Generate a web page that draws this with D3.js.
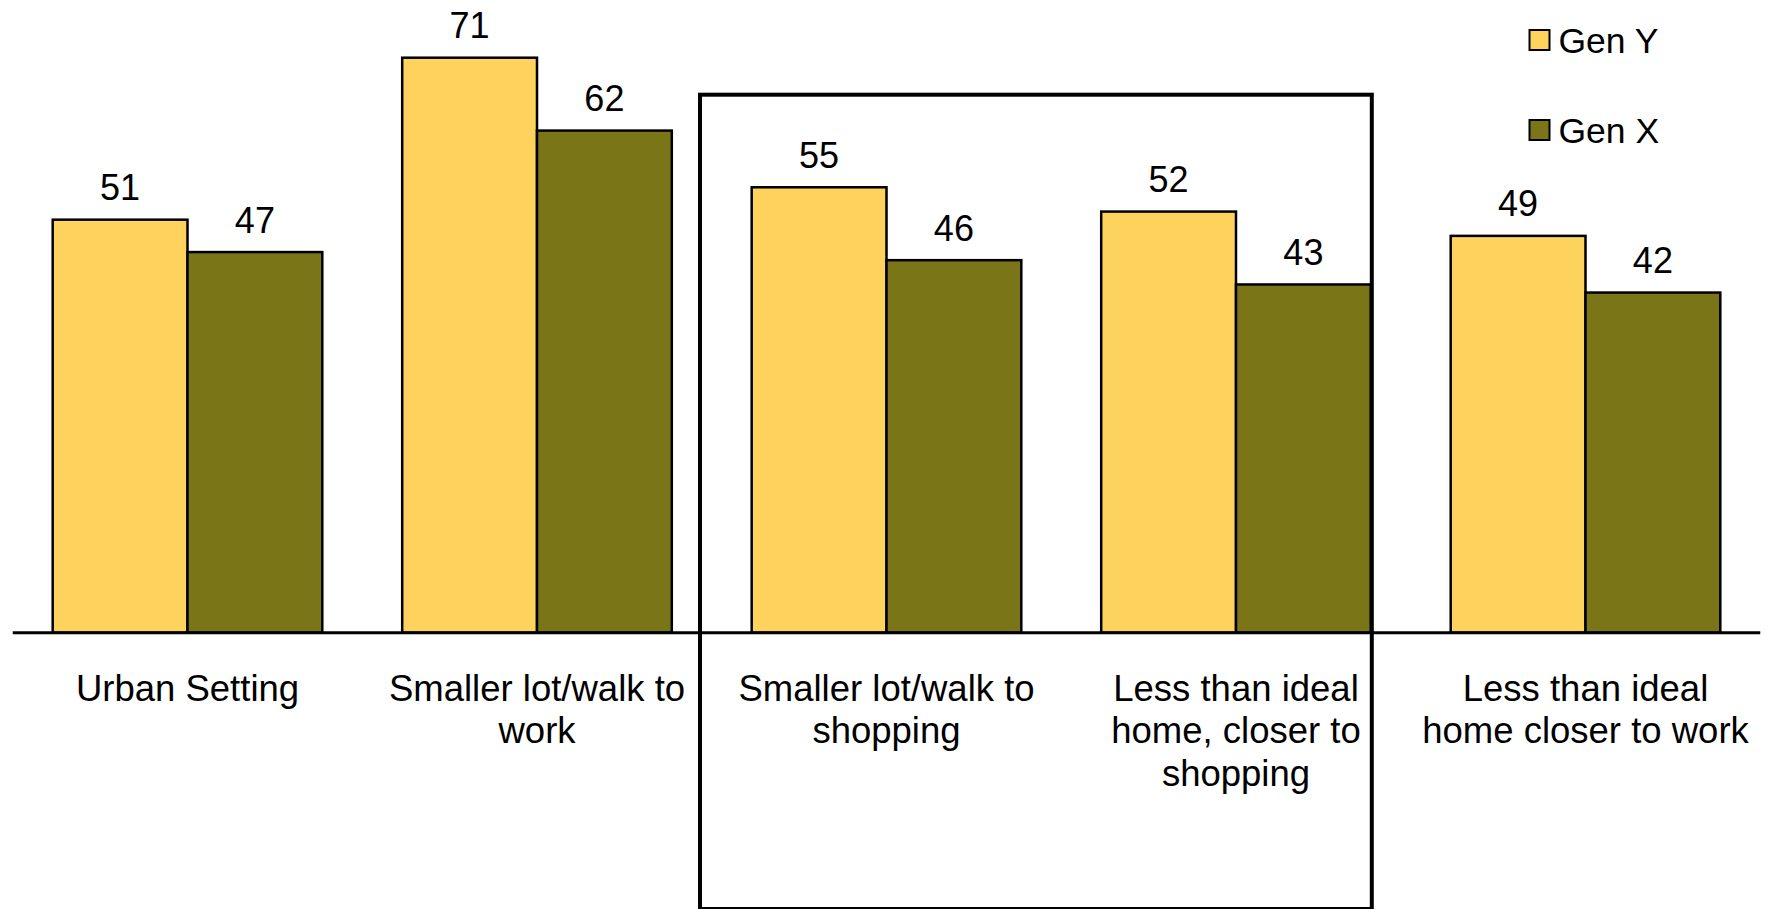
<!DOCTYPE html>
<html>
<head>
<meta charset="utf-8">
<script src="https://cdn.jsdelivr.net/npm/d3@7"></script>
<style>
  html, body { margin: 0; padding: 0; background: #fff; }
  svg { display: block; font-family: "Liberation Sans", Arial, sans-serif; }
</style>
</head>
<body>
<svg id="chart" width="1765" height="909"></svg>
<script>
// Categories (with explicit line breaks for the axis labels)
const categories = [
  "Urban Setting",
  "Smaller lot/walk to work",
  "Smaller lot/walk to shopping",
  "Less than ideal home, closer to shopping",
  "Less than ideal home closer to work"
];
const categoryLines = [
  ["Urban Setting"],
  ["Smaller lot/walk to", "work"],
  ["Smaller lot/walk to", "shopping"],
  ["Less than ideal", "home, closer to", "shopping"],
  ["Less than ideal", "home closer to work"]
];
const seriesNames = ["Gen Y", "Gen X"];
const genY = [51, 71, 55, 52, 49];
const genX = [47, 62, 46, 43, 42];
const seriesColors = ["#FDD35D", "#7A7516"];

// Categories inside the highlight frame
const highlighted = [categories[2], categories[3]];

const svg = d3.select("#chart");

const baseY = 632.7;
const x0 = d3.scaleBand()
  .domain(categories)
  .range([12.75, 1760.25])
  .paddingInner(0.2286)
  .paddingOuter(0.1143);
const x1 = d3.scaleBand()
  .domain(seriesNames)
  .range([0, x0.bandwidth()]);
const y = d3.scaleLinear()
  .domain([0, 71])
  .range([baseY, 57.7]);
const color = d3.scaleOrdinal().domain(seriesNames).range(seriesColors);

const rows = categories.map((c, i) => ({
  cat: c,
  values: [
    { key: "Gen Y", value: genY[i] },
    { key: "Gen X", value: genX[i] }
  ]
}));

// Bars
const groups = svg.append("g").selectAll("g")
  .data(rows).join("g")
  .attr("transform", d => `translate(${x0(d.cat)},0)`);

groups.selectAll("rect")
  .data(d => d.values).join("rect")
  .attr("x", d => x1(d.key))
  .attr("y", d => y(d.value))
  .attr("width", x1.bandwidth())
  .attr("height", d => y(0) - y(d.value))
  .attr("fill", d => color(d.key))
  .attr("stroke", "#000")
  .attr("stroke-width", 2.5);

// Value labels
groups.selectAll("text.val")
  .data(d => d.values).join("text")
  .attr("class", "val")
  .attr("x", d => x1(d.key) + x1.bandwidth() / 2)
  .attr("y", d => y(d.value) - 19.5)
  .attr("text-anchor", "middle")
  .attr("font-size", 36)
  .attr("fill", "#000")
  .text(d => d.value);

// Category axis
const xAxis = d3.axisBottom(x0).tickSize(0).tickFormat("");
const axisG = svg.append("g")
  .attr("transform", `translate(0,${baseY})`)
  .call(xAxis);
axisG.select(".domain")
  .attr("stroke", "#000")
  .attr("stroke-width", 3)
  .attr("d", `M${x0.range()[0]},0H${x0.range()[1]}`);

const labels = svg.append("g").selectAll("text")
  .data(categories).join("text")
  .attr("text-anchor", "middle")
  .attr("font-size", 36.5)
  .attr("fill", "#000")
  .attr("transform", d => `translate(${x0(d) + x0.bandwidth() / 2},${baseY + 68})`);
labels.each(function (d, i) {
  d3.select(this).selectAll("tspan")
    .data(categoryLines[i]).join("tspan")
    .attr("x", 0)
    .attr("dy", (t, j) => j === 0 ? 0 : 42.5)
    .text(t => t);
});

// Highlight frame around the shopping-related pair
const hx0 = x0(highlighted[0]) - 51.7;
const hx1 = x0(highlighted[1]) + x0.bandwidth() + 1;
svg.append("rect")
  .attr("x", hx0)
  .attr("y", 94.7)
  .attr("width", hx1 - hx0)
  .attr("height", 909 - 94.7)
  .attr("fill", "none")
  .attr("stroke", "#000")
  .attr("stroke-width", 4);

// Legend
const legend = svg.append("g").selectAll("g")
  .data(seriesNames).join("g")
  .attr("transform", (d, i) => `translate(1529.5,${30 + i * 90})`);
legend.append("rect")
  .attr("width", 20).attr("height", 20)
  .attr("fill", d => color(d))
  .attr("stroke", "#000")
  .attr("stroke-width", 2);
legend.append("text")
  .attr("x", 29)
  .attr("y", 22.7)
  .attr("font-size", 35.5)
  .attr("fill", "#000")
  .text(d => d);
</script>
</body>
</html>
